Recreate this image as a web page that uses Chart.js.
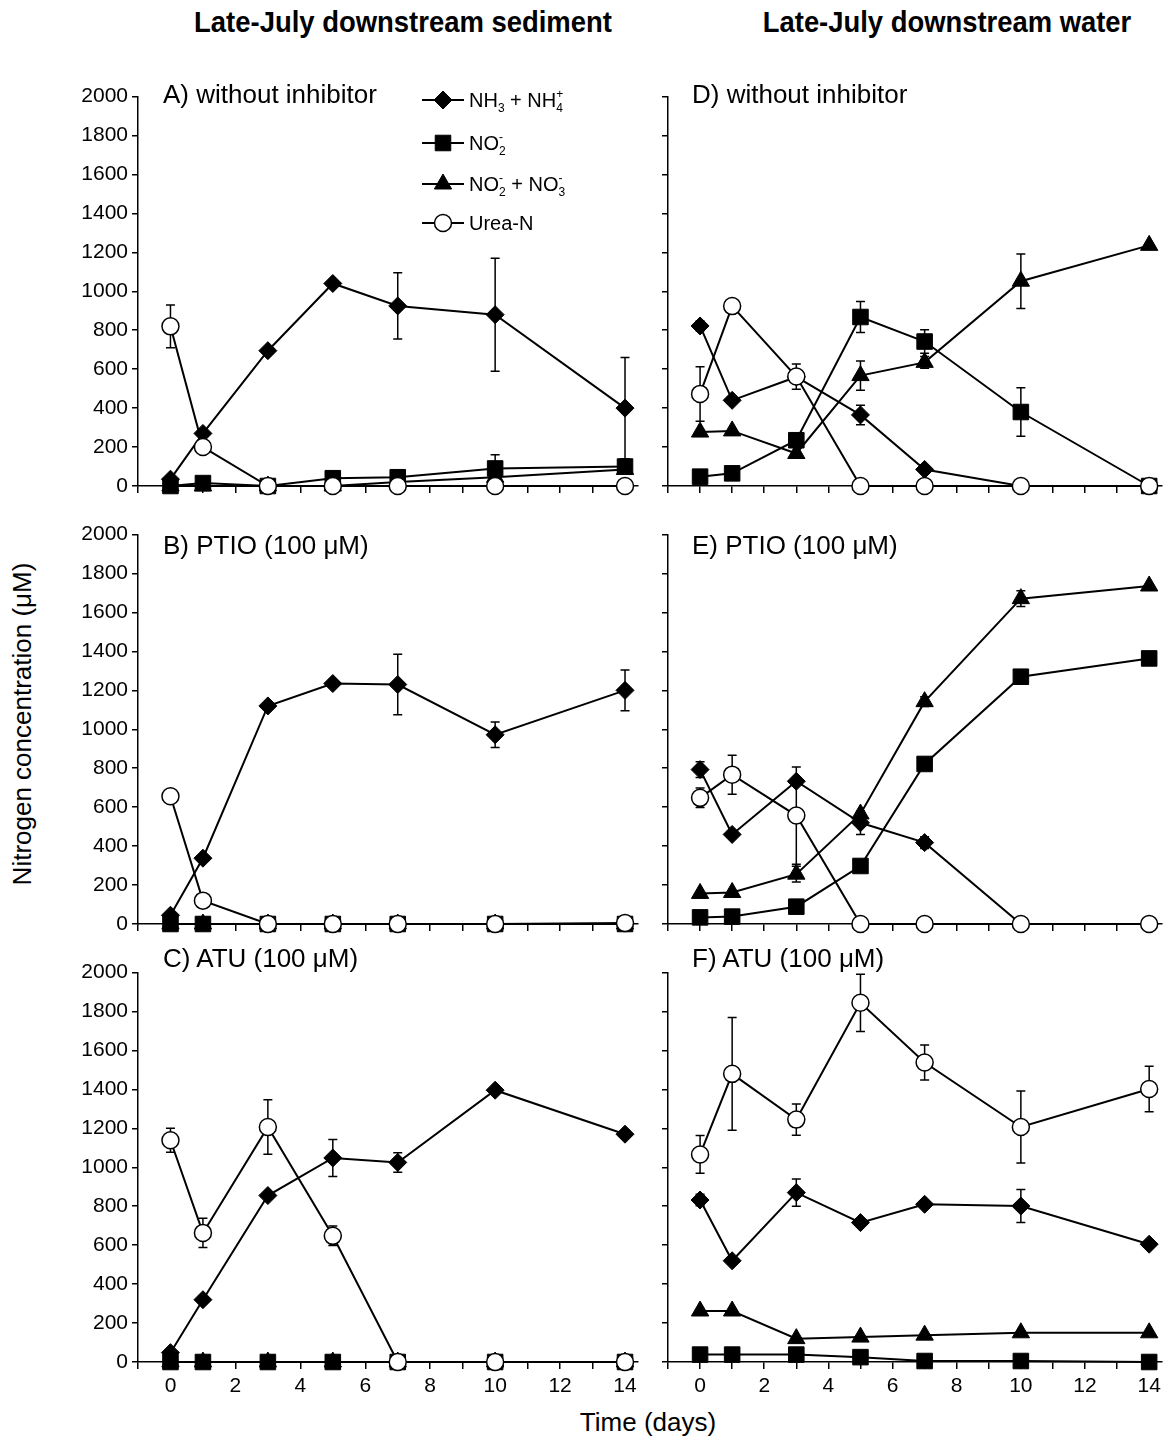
<!DOCTYPE html>
<html>
<head>
<meta charset="utf-8">
<script src="https://cdn.jsdelivr.net/npm/chart.js@4.4.1/dist/chart.umd.min.js"></script>
<style>
  body { margin: 0; background: #fff; }
  #page { position: relative; width: 1174px; height: 1441px; overflow: hidden;
          font-family: "Liberation Sans", Arial, sans-serif; color: #000; }
  canvas { position: absolute; }
  .txt { position: absolute; white-space: nowrap; line-height: 1; }
  .title { font-weight: bold; font-size: 30px;
           font-family: "Liberation Sans Narrow", "Arial Narrow", "Liberation Sans", Arial, sans-serif; }
  .plabel { font-size: 26px; transform: translateY(-50%); }
  .axtitle { font-size: 26px; }
</style>
</head>
<body>
<div id="page">
  <div class="txt title" id="t1" style="left:403px; top:22px;">Late-July downstream sediment</div>
  <div class="txt title" id="t2" style="left:947px; top:22px;">Late-July downstream water</div>
  <div class="txt axtitle" style="left:22px; top:724px; transform: translate(-50%,-50%) rotate(-90deg);">Nitrogen concentration (μM)</div>
  <div class="txt axtitle" style="left:648px; top:1422px; transform: translate(-50%,-50%);">Time (days)</div>
</div>
<script>
// sampling days
var days = [0, 1, 3, 5, 7, 10, 14];

// A) sediment, without inhibitor
var nh4A = [35, 270, 695, 1040, 925, 880, 400];
var nh4AErr = [0, 0, 0, 0, 170, 290, 260];
var no2A = [0, 15, 0, 40, 45, 90, 100];
var no2AErr = [0, 0, 0, 0, 0, 70, 0];
var noxA = [0, 0, 0, 0, 20, 45, 85];
var noxAErr = [0, 0, 0, 0, 0, 0, 0];
var ureaA = [820, 200, 0, 0, 0, 0, 0];
var ureaAErr = [110, 0, 0, 0, 0, 0, 0];

// B) sediment, PTIO
var nh4B = [45, 338, 1120, 1235, 1230, 972, 1200];
var nh4BErr = [0, 0, 0, 0, 155, 65, 105];
var no2B = [0, 0, 0, 0, 0, 0, 0];
var no2BErr = [0, 0, 0, 0, 0, 0, 0];
var noxB = [0, 0, 0, 0, 0, 0, 0];
var noxBErr = [0, 0, 0, 0, 0, 0, 0];
var ureaB = [656, 120, 0, 0, 0, 0, 5];
var ureaBErr = [0, 0, 0, 0, 0, 0, 0];

// C) sediment, ATU
var nh4C = [48, 320, 855, 1048, 1025, 1396, 1170];
var nh4CErr = [0, 0, 0, 95, 50, 0, 20];
var no2C = [0, 0, 0, 0, 0, 0, 0];
var no2CErr = [0, 0, 0, 0, 0, 0, 0];
var noxC = [0, 0, 0, 0, 0, 0, 0];
var noxCErr = [0, 0, 0, 0, 0, 0, 0];
var ureaC = [1139, 663, 1207, 648, 0, 0, 0];
var ureaCErr = [62, 75, 140, 50, 0, 0, 0];

// D) water, without inhibitor
var nh4D = [822, 440, 560, 365, 85, 0, 0];
var nh4DErr = [25, 0, 0, 50, 15, 0, 0];
var no2D = [48, 65, 235, 868, 742, 380, 0];
var no2DErr = [0, 0, 0, 80, 60, 124, 0];
var noxD = [277, 283, 167, 567, 635, 1052, 1236];
var noxDErr = [0, 0, 0, 75, 30, 140, 0];
var ureaD = [473, 924, 562, 0, 0, 0, 0];
var ureaDErr = [140, 0, 65, 0, 0, 0, 0];

// E) water, PTIO
var nh4E = [793, 460, 733, 520, 418, 0, 0];
var nh4EErr = [40, 0, 0, 60, 30, 0, 0];
var no2E = [34, 38, 89, 298, 822, 1270, 1364];
var no2EErr = [0, 0, 0, 0, 0, 20, 0];
var noxE = [157, 162, 256, 565, 1142, 1671, 1736];
var noxEErr = [0, 0, 40, 0, 25, 40, 0];
var ureaE = [648, 767, 557, 0, 0, 0, 0];
var ureaEErr = [50, 100, 250, 0, 0, 0, 0];

// F) water, ATU
var nh4F = [832, 520, 870, 716, 810, 801, 605];
var nh4FErr = [30, 0, 70, 0, 20, 85, 0];
var no2F = [38, 38, 38, 25, 5, 5, 0];
var no2FErr = [0, 0, 0, 0, 0, 0, 0];
var noxF = [262, 262, 120, 128, 138, 150, 150];
var noxFErr = [0, 0, 0, 0, 0, 0, 0];
var ureaF = [1066, 1480, 1245, 1845, 1538, 1207, 1402];
var ureaFErr = [97, 290, 80, 147, 90, 185, 117];

var yTicks = [0, 200, 400, 600, 800, 1000, 1200, 1400, 1600, 1800, 2000];
var xTicks = [-1, 0, 1, 2, 3, 4, 5, 6, 7, 8, 9, 10, 11, 12, 13, 14];
var xTickLabels = [0, 2, 4, 6, 8, 10, 12, 14];

var panels = [
    { label: "A) without inhibitor", col: 0, row: 0, nh4: nh4A, nh4Err: nh4AErr, no2: no2A, no2Err: no2AErr, nox: noxA, noxErr: noxAErr, urea: ureaA, ureaErr: ureaAErr, legend: true },
    { label: "B) PTIO (100 μM)", col: 0, row: 1, nh4: nh4B, nh4Err: nh4BErr, no2: no2B, no2Err: no2BErr, nox: noxB, noxErr: noxBErr, urea: ureaB, ureaErr: ureaBErr },
    { label: "C) ATU (100 μM)", col: 0, row: 2, nh4: nh4C, nh4Err: nh4CErr, no2: no2C, no2Err: no2CErr, nox: noxC, noxErr: noxCErr, urea: ureaC, ureaErr: ureaCErr },
    { label: "D) without inhibitor", col: 1, row: 0, nh4: nh4D, nh4Err: nh4DErr, no2: no2D, no2Err: no2DErr, nox: noxD, noxErr: noxDErr, urea: ureaD, ureaErr: ureaDErr },
    { label: "E) PTIO (100 μM)", col: 1, row: 1, nh4: nh4E, nh4Err: nh4EErr, no2: no2E, no2Err: no2EErr, nox: noxE, noxErr: noxEErr, urea: ureaE, ureaErr: ureaEErr },
    { label: "F) ATU (100 μM)", col: 1, row: 2, nh4: nh4F, nh4Err: nh4FErr, no2: no2F, no2Err: no2FErr, nox: noxF, noxErr: noxFErr, urea: ureaF, ureaErr: ureaFErr }
];

// layout (px)
var rowTop = [95, 533, 971];
var plotH = 391;
var padTop = 15;
var xAxisH = 45;
var colLeft = [0, 650];
var colWidth = [650, 524];
var yAxisW = [138, 18];
var plotW = 500;
var labelTop = [94, 545, 958];
var labelLeft = [163, 692];

// marker sizes
var marks = {
    nh4: { style: "rectRot", r: 9, fill: "#000" },
    no2: { style: "rect", r: 11, fill: "#000" },
    nox: { style: "triangle", r: 10, fill: "#000" },
    urea: { style: "circle", r: 8.5, fill: "#fff" }
};

Chart.defaults.font.family = '"Liberation Sans", Arial, sans-serif';
Chart.defaults.color = "#000";

function drawMarker(ctx, m, x, y) {
    var r = m.r;
    ctx.beginPath();
    if (m.style === "rectRot") {
        ctx.moveTo(x - r, y); ctx.lineTo(x, y - r); ctx.lineTo(x + r, y); ctx.lineTo(x, y + r);
        ctx.closePath();
    } else if (m.style === "rect") {
        var s = r * Math.SQRT1_2;
        ctx.rect(x - s, y - s, 2 * s, 2 * s);
    } else if (m.style === "triangle") {
        ctx.moveTo(x, y - r);
        ctx.lineTo(x + 0.866 * r, y + 0.5 * r);
        ctx.lineTo(x - 0.866 * r, y + 0.5 * r);
        ctx.closePath();
    } else {
        ctx.arc(x, y, r, 0, Math.PI * 2);
    }
    ctx.fillStyle = m.fill;
    ctx.fill();
    ctx.lineWidth = m.style === "circle" ? 1.5 : 1;
    ctx.strokeStyle = "#000";
    ctx.stroke();
}

// text with sub/superscripts: parts = [[text, kind, sup], ...]
function drawRich(ctx, parts, x, baseY) {
    ctx.fillStyle = "#000";
    ctx.textBaseline = "alphabetic";
    ctx.textAlign = "left";
    parts.forEach(function (p) {
        if (p[1] === "n") {
            ctx.font = '20px "Liberation Sans", Arial, sans-serif';
            ctx.fillText(p[0], x, baseY);
            x += ctx.measureText(p[0]).width;
        } else {
            ctx.font = '12px "Liberation Sans", Arial, sans-serif';
            var w = 0;
            if (p[0]) { ctx.fillText(p[0], x, baseY + 5); w = ctx.measureText(p[0]).width; }
            if (p[2]) { ctx.fillText(p[2], x, baseY - 9); w = Math.max(w, ctx.measureText(p[2]).width); }
            x += w;
        }
    });
}

var legendRows = [
    { key: "nh4", parts: [["NH", "n"], ["3", "s"], [" + NH", "n"], ["4", "s", "+"]] },
    { key: "no2", parts: [["NO", "n"], ["2", "s", "-"]] },
    { key: "nox", parts: [["NO", "n"], ["2", "s", "-"], [" + NO", "n"], ["3", "s", "-"]] },
    { key: "urea", parts: [["Urea-N", "n"]] }
];
var legendY = [100, 143, 184, 223];

var errorBarPlugin = {
    id: "errorBars",
    beforeDatasetsDraw: function (chart) {
        var ctx = chart.ctx;
        var xs = chart.scales.x, ys = chart.scales.y;
        ctx.save();
        ctx.strokeStyle = "#000";
        ctx.lineWidth = 1.5;
        chart.data.datasets.forEach(function (ds) {
            ds.data.forEach(function (pt, i) {
                var e = ds.errors[i];
                if (!e) return;
                var x = xs.getPixelForValue(pt.x);
                var y1 = ys.getPixelForValue(pt.y + e);
                var y2 = ys.getPixelForValue(Math.max(pt.y - e, 0));
                ctx.beginPath();
                ctx.moveTo(x, y1); ctx.lineTo(x, y2);
                ctx.moveTo(x - 4.5, y1); ctx.lineTo(x + 4.5, y1);
                if (pt.y - e > 0) { ctx.moveTo(x - 4.5, y2); ctx.lineTo(x + 4.5, y2); }
                ctx.stroke();
            });
        });
        ctx.restore();
    }
};

function legendPlugin(offX, offY) {
    return {
        id: "nLegend",
        afterDraw: function (chart) {
            var ctx = chart.ctx;
            ctx.save();
            legendRows.forEach(function (row, i) {
                var y = legendY[i] - offY;
                ctx.strokeStyle = "#000";
                ctx.lineWidth = 2;
                ctx.beginPath();
                ctx.moveTo(422 - offX, y); ctx.lineTo(464 - offX, y);
                ctx.stroke();
                drawMarker(ctx, marks[row.key], 443 - offX, y);
                drawRich(ctx, row.parts, 469 - offX, y + 7);
            });
            ctx.restore();
        }
    };
}

function series(vals, errs, key, order) {
    var m = marks[key];
    return {
        data: days.map(function (d, i) { return { x: d, y: vals[i] }; }),
        errors: errs,
        borderColor: "#000",
        borderWidth: 2,
        pointStyle: m.style,
        pointRadius: m.r,
        pointHoverRadius: m.r,
        pointBackgroundColor: m.fill,
        pointBorderColor: "#000",
        pointBorderWidth: key === "urea" ? 1.5 : 1,
        tension: 0,
        fill: false,
        clip: false,
        order: order
    };
}

var page = document.getElementById("page");

panels.forEach(function (p) {
    var cw = colWidth[p.col];
    var ch = padTop + plotH + xAxisH;
    var left = colLeft[p.col];
    var top = rowTop[p.row] - padTop;

    var cv = document.createElement("canvas");
    cv.width = cw; cv.height = ch;
    cv.style.left = left + "px"; cv.style.top = top + "px";
    cv.style.width = cw + "px"; cv.style.height = ch + "px";
    page.appendChild(cv);

    var lab = document.createElement("div");
    lab.className = "txt plabel";
    lab.style.left = labelLeft[p.col] + "px";
    lab.style.top = labelTop[p.row] + "px";
    lab.textContent = p.label;
    page.appendChild(lab);

    var showY = p.col === 0;
    var showX = p.row === 2;
    var yW = yAxisW[p.col];
    var plugins = [errorBarPlugin];
    if (p.legend) plugins.push(legendPlugin(left, top));

    new Chart(cv.getContext("2d"), {
        type: "line",
        data: {
            datasets: [
                series(p.urea, p.ureaErr, "urea", 0),
                series(p.nh4, p.nh4Err, "nh4", 1),
                series(p.no2, p.no2Err, "no2", 2),
                series(p.nox, p.noxErr, "nox", 3)
            ]
        },
        options: {
            responsive: false,
            animation: false,
            devicePixelRatio: 1,
            events: [],
            layout: { padding: { top: padTop, right: cw - yW - plotW, bottom: 0, left: 0 } },
            plugins: { legend: { display: false }, tooltip: { enabled: false } },
            scales: {
                x: {
                    type: "linear",
                    min: -1,
                    max: 14.4,
                    afterBuildTicks: function (s) {
                        s.ticks = xTicks.map(function (v) { return { value: v }; });
                    },
                    afterFit: function (s) { s.height = xAxisH; },
                    ticks: {
                        autoSkip: false,
                        maxRotation: 0,
                        padding: 5,
                        font: { size: 21 },
                        color: "#000",
                        callback: function (v) {
                            return showX && xTickLabels.indexOf(v) >= 0 ? String(v) : "";
                        }
                    },
                    grid: { drawOnChartArea: false, drawTicks: true, tickLength: 7, color: "#000", lineWidth: 1.5 },
                    border: { display: true, color: "#000", width: 1.5 }
                },
                y: {
                    min: 0,
                    max: 2000,
                    afterBuildTicks: function (s) {
                        s.ticks = yTicks.map(function (v) { return { value: v }; });
                    },
                    afterFit: function (s) { s.width = yW; },
                    ticks: {
                        padding: 4,
                        font: { size: 21 },
                        color: "#000",
                        callback: function (v) { return showY ? String(v) : ""; }
                    },
                    grid: { drawOnChartArea: false, drawTicks: true, tickLength: 6, color: "#000", lineWidth: 1.5 },
                    border: { display: true, color: "#000", width: 1.5 }
                }
            }
        },
        plugins: plugins
    });
});

// squeeze the bold column titles to the reference width
function fitTitle(id, target) {
    var el = document.getElementById(id);
    var w = el.offsetWidth;
    el.style.transform = "translate(-50%,-50%) scaleX(" + (target / w) + ")";
}
fitTitle("t1", 418);
fitTitle("t2", 368);
</script>
</body>
</html>
